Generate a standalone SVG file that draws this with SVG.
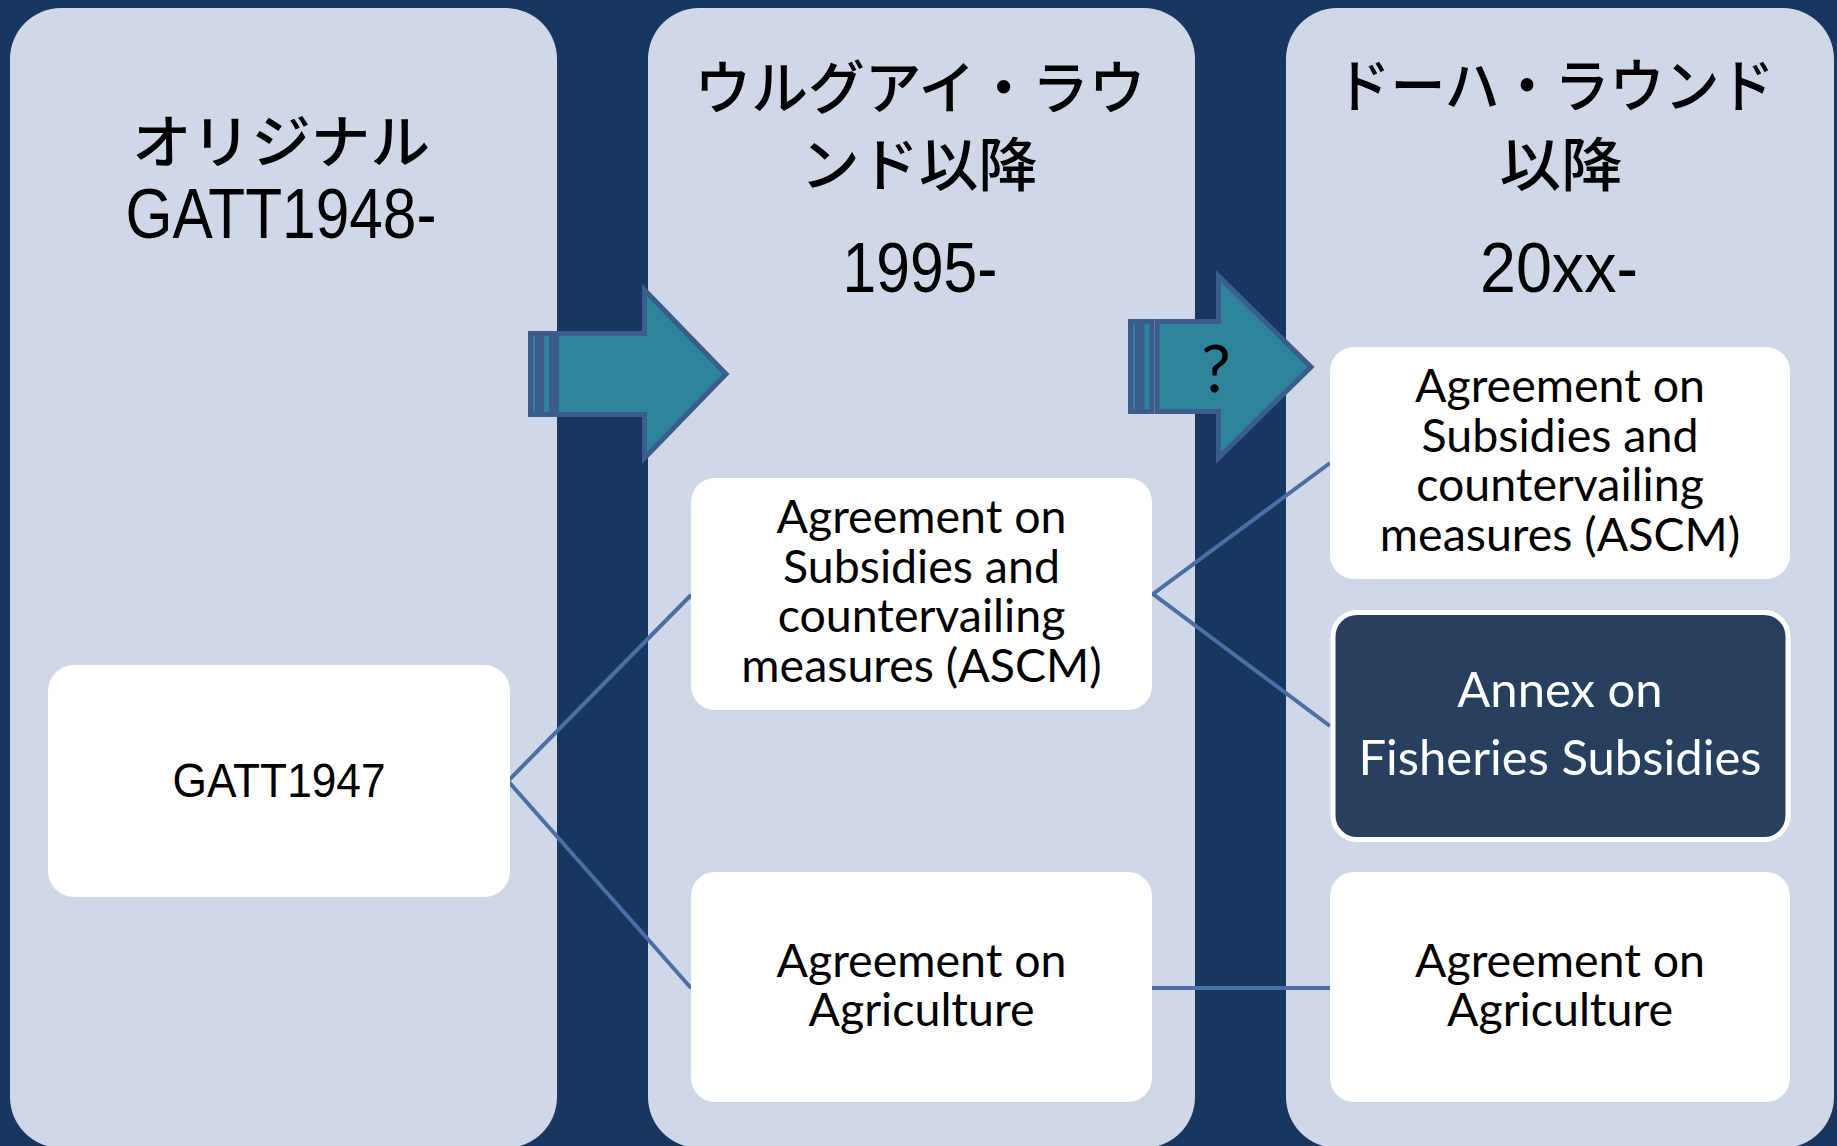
<svg xmlns="http://www.w3.org/2000/svg" width="1837" height="1146" viewBox="0 0 1837 1146">
<defs>
<style>
.panel{fill:#d0d8e7}
.box{fill:#ffffff}
.ttl{font-family:"Noto Sans CJK JP","Noto Sans CJK SC",sans-serif;font-size:58px;font-weight:500;fill:#000;text-anchor:middle}
.yr{font-family:"Liberation Sans",Arial,sans-serif;font-size:70px;fill:#000;text-anchor:middle}
.bt{font-family:Lato,"Open Sans",sans-serif;font-size:46.5px;fill:#000;text-anchor:middle}
.nar{font-family:"Liberation Sans",Arial,sans-serif;font-size:49px;fill:#000;text-anchor:middle}
.wt{font-family:Lato,"Open Sans",sans-serif;font-size:49px;fill:#ffffff;text-anchor:middle}
.arr{fill:#2e849c;stroke:#3a5d8b;stroke-width:5;stroke-linejoin:miter}
.con{fill:none;stroke:#4a6fa5;stroke-width:4}
</style>
</defs>
<rect x="0" y="0" width="1837" height="1146" fill="#173660"/>

<g id="panel-original">
<rect class="panel" x="10" y="8" width="547" height="1140" rx="51" ry="51"/>
<text class="ttl" x="281" y="163" textLength="298" lengthAdjust="spacingAndGlyphs">オリジナル</text>
<text class="yr" x="281" y="238" textLength="311" lengthAdjust="spacingAndGlyphs">GATT1948-</text>
</g>

<g id="panel-uruguay">
<rect class="panel" x="648" y="8" width="547" height="1140" rx="51" ry="51"/>
<text class="ttl" x="920" y="109" textLength="451" lengthAdjust="spacingAndGlyphs">ウルグアイ・ラウ</text>
<text class="ttl" x="919" y="186" textLength="237" lengthAdjust="spacingAndGlyphs">ンド以降</text>
<text class="yr" x="920" y="292" textLength="155" lengthAdjust="spacingAndGlyphs">1995-</text>
</g>

<g id="panel-doha">
<rect class="panel" x="1286" y="8" width="548" height="1140" rx="51" ry="51"/>
<text class="ttl" x="1555" y="107" textLength="439" lengthAdjust="spacingAndGlyphs">ドーハ・ラウンド</text>
<text class="ttl" x="1561" y="186" textLength="123" lengthAdjust="spacingAndGlyphs">以降</text>
<text class="yr" x="1559" y="292" textLength="158" lengthAdjust="spacingAndGlyphs">20xx-</text>
</g>

<g id="connectors">
<polyline class="con" points="691,595 508,781 691,988"/>
<polyline class="con" points="1330,463 1153,594 1330,726"/>
<line class="con" x1="1152" y1="988" x2="1330" y2="988" stroke-width="5"/>
</g>

<g id="arrow-1">
<rect class="arr" x="530.5" y="333.5" width="7" height="81"/>
<rect class="arr" x="541.5" y="333.5" width="10" height="81"/>
<path class="arr" d="M556.5,333.5 H644.5 V290 L726,374 L644.5,458 V414.5 H556.5 Z"/>
</g>

<g id="arrow-2">
<rect class="arr" x="1130.5" y="321.5" width="7" height="90"/>
<rect class="arr" x="1142" y="321.5" width="10" height="90"/>
<path class="arr" d="M1157,321.5 H1218.5 V276 L1311,367 L1218.5,458 V411.5 H1157 Z"/>
<text x="1216" y="392" font-family="Lato,'Open Sans',sans-serif" font-size="66" fill="#000" text-anchor="middle">?</text>
</g>

<g id="node-gatt1947">
<rect class="box" x="48" y="665" width="462" height="232" rx="26" ry="26"/>
<text class="nar" x="279" y="797" textLength="213" lengthAdjust="spacingAndGlyphs">GATT1947</text>
</g>

<g id="node-ascm-1995">
<rect class="box" x="691" y="478" width="461" height="232" rx="24" ry="24"/>
<text class="bt" x="921.5" y="533">Agreement on</text>
<text class="bt" x="921.5" y="583">Subsidies and</text>
<text class="bt" x="921.5" y="632">countervailing</text>
<text class="bt" x="921.5" y="682">measures (ASCM)</text>
</g>

<g id="node-agri-1995">
<rect class="box" x="691" y="872" width="461" height="230" rx="24" ry="24"/>
<text class="bt" x="921.5" y="977">Agreement on</text>
<text class="bt" x="921.5" y="1026">Agriculture</text>
</g>

<g id="node-ascm-20xx">
<rect class="box" x="1330" y="347" width="460" height="232" rx="24" ry="24"/>
<text class="bt" x="1560" y="402">Agreement on</text>
<text class="bt" x="1560" y="452">Subsidies and</text>
<text class="bt" x="1560" y="501">countervailing</text>
<text class="bt" x="1560" y="551">measures (ASCM)</text>
</g>

<g id="node-annex-20xx">
<rect x="1333" y="612.5" width="455" height="227" rx="24" ry="24" fill="#27405f" stroke="#ffffff" stroke-width="5"/>
<text class="wt" x="1560" y="707">Annex on</text>
<text class="wt" x="1560" y="775">Fisheries Subsidies</text>
</g>

<g id="node-agri-20xx">
<rect class="box" x="1330" y="872" width="460" height="230" rx="24" ry="24"/>
<text class="bt" x="1560" y="977">Agreement on</text>
<text class="bt" x="1560" y="1026">Agriculture</text>
</g>
</svg>
